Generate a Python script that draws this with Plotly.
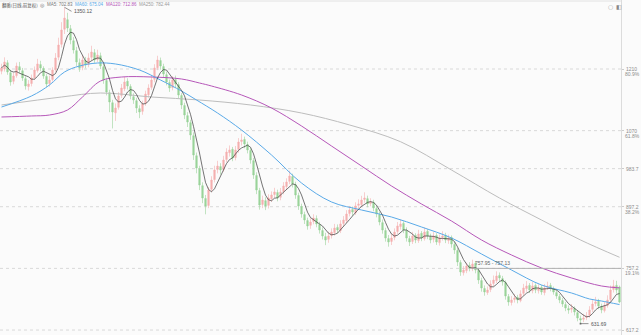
import plotly.graph_objects as go
import pandas as pd

# ---- daily OHLC (bar index 0..206) ----
opens = [1205.0, 1210.0, 1224.0, 1201.5, 1182.0, 1195.0, 1215.3, 1206.0, 1188.0, 1170.2,
         1177.0, 1190.4, 1206.5, 1220.0, 1211.1, 1193.0, 1177.2, 1186.3, 1209.0, 1236.8,
         1266.0, 1300.2, 1322.0, 1301.5, 1274.0, 1251.6, 1224.2, 1213.7, 1229.0, 1220.3,
         1236.4, 1247.0, 1231.8, 1240.1, 1215.0, 1183.7, 1156.0, 1133.4, 1110.5, 1123.0,
         1150.2, 1165.0, 1182.1, 1170.0, 1147.2, 1138.0, 1120.0, 1113.8, 1132.0, 1151.5,
         1168.3, 1186.6, 1213.0, 1229.1, 1215.4, 1197.0, 1179.2, 1168.0, 1186.2, 1174.5,
         1149.6, 1127.0, 1104.1, 1088.2, 1058.6, 1013.0, 983.6, 945.0, 915.8, 900.2,
         936.8, 959.0, 982.0, 988.3, 982.0, 1004.6, 1020.0, 1027.5, 1009.0, 1027.6,
         1045.5, 1050.0, 1038.4, 1024.7, 1001.9, 968.0, 933.8, 902.5, 911.0, 900.3,
         915.6, 925.0, 929.3, 918.5, 932.0, 943.0, 954.8, 965.6, 947.4, 922.5,
         897.5, 879.3, 865.7, 854.9, 863.9, 870.2, 856.6, 843.0, 829.3, 823.1,
         832.1, 838.4, 850.3, 843.0, 859.4, 865.7, 882.1, 891.2, 883.8, 900.3,
         902.0, 913.9, 915.6, 904.8, 906.6, 892.9, 879.3, 861.1, 843.0, 824.8,
         818.5, 827.6, 841.2, 852.1, 859.4, 843.0, 824.8, 818.5, 832.1, 820.3,
         836.7, 824.8, 841.2, 829.3, 823.1, 832.1, 815.7, 827.6, 832.1, 820.3,
         827.6, 811.2, 797.6, 770.3, 747.6, 752.1, 764.0, 756.7, 768.6, 752.1,
         729.4, 711.3, 702.2, 709.5, 723.1, 729.4, 741.3, 734.0, 724.9, 693.1,
         679.5, 686.8, 691.4, 684.0, 700.5, 711.3, 718.6, 706.7, 718.6, 706.7,
         714.1, 702.2, 714.1, 718.6, 711.3, 702.2, 693.1, 684.0, 674.9, 665.8,
         664.1, 665.8, 656.7, 643.1, 641.4, 646.0, 650.5, 664.1, 677.7, 682.3,
         670.4, 661.3, 673.2, 686.8, 709.5, 718.6, 715.0]
highs = [1222.0, 1236.5, 1230.1, 1208.3, 1201.7, 1224.6, 1226.0, 1212.4, 1193.5, 1184.7,
         1197.3, 1215.8, 1233.0, 1228.6, 1216.2, 1198.4, 1194.9, 1214.0, 1246.2, 1281.0,
         1316.4, 1350.12, 1337.6, 1310.0, 1282.5, 1260.3, 1233.8, 1241.0, 1237.4, 1245.8,
         1262.7, 1255.2, 1253.9, 1247.3, 1221.6, 1190.2, 1162.8, 1140.0, 1131.7, 1157.5,
         1176.0, 1192.2, 1189.0, 1175.5, 1155.0, 1144.6, 1127.5, 1138.2, 1160.7, 1175.3,
         1196.1, 1220.9, 1240.0, 1236.0, 1222.0, 1204.4, 1186.0, 1193.6, 1195.0, 1180.0,
         1155.2, 1133.4, 1112.0, 1094.5, 1066.0, 1020.3, 990.2, 952.6, 924.0, 942.0,
         966.5, 990.3, 1001.5, 996.0, 1012.8, 1030.0, 1036.4, 1033.0, 1035.2, 1053.0,
         1063.0, 1056.5, 1045.0, 1030.2, 1008.0, 975.5, 940.0, 922.3, 918.7, 925.6,
         932.0, 940.2, 936.0, 939.8, 953.0, 961.7, 979.0, 972.3, 954.0, 929.0,
         904.2, 886.0, 872.4, 871.0, 880.2, 877.5, 863.0, 850.4, 838.0, 840.5,
         848.0, 858.2, 857.0, 866.6, 876.0, 889.4, 899.0, 897.5, 907.3, 914.0,
         922.0, 930.0, 922.4, 916.5, 913.0, 899.6, 886.0, 868.3, 849.5, 833.0,
         835.3, 848.0, 862.6, 868.0, 864.0, 850.5, 831.0, 840.2, 837.0, 844.8,
         842.0, 850.0, 846.4, 836.0, 839.6, 837.2, 834.0, 841.5, 838.0, 833.7,
         832.0, 817.5, 803.0, 776.0, 762.4, 770.0, 771.2, 777.0, 773.0, 758.4,
         736.0, 718.5, 716.0, 730.2, 741.0, 750.6, 748.0, 740.2, 730.0, 699.0,
         694.2, 698.6, 697.0, 707.5, 722.0, 728.4, 724.0, 726.0, 723.3, 721.0,
         719.5, 721.8, 727.0, 724.2, 716.0, 708.8, 699.0, 690.5, 681.0, 673.2,
         676.0, 671.0, 662.3, 650.0, 653.8, 658.0, 671.4, 685.0, 692.5, 688.0,
         677.0, 681.6, 696.0, 718.3, 731.0, 729.0, 718.2]
lows = [1198.0, 1204.2, 1196.8, 1172.0, 1175.4, 1190.2, 1200.1, 1183.0, 1163.2, 1161.0,
        1170.5, 1185.1, 1201.9, 1205.0, 1187.7, 1168.3, 1170.0, 1181.5, 1203.4, 1230.0,
        1258.7, 1289.5, 1294.0, 1266.2, 1245.1, 1217.0, 1203.5, 1207.2, 1211.6, 1214.0,
        1229.1, 1224.0, 1225.6, 1210.0, 1176.4, 1150.0, 1112.0, 1075.0, 1092.0, 1117.8,
        1144.3, 1159.6, 1163.3, 1141.2, 1130.8, 1110.0, 1098.4, 1106.0, 1126.4, 1145.0,
        1162.7, 1180.0, 1207.3, 1208.5, 1190.3, 1172.8, 1158.0, 1161.5, 1167.4, 1143.6,
        1119.0, 1096.2, 1078.3, 1049.0, 1003.5, 973.1, 935.0, 905.3, 880.0, 894.0,
        930.1, 952.4, 973.0, 970.2, 976.5, 998.0, 1011.2, 1000.6, 1002.5, 1020.0,
        1036.2, 1030.0, 1018.3, 995.0, 960.4, 925.8, 890.6, 894.0, 889.5, 893.2,
        908.0, 917.4, 909.5, 912.0, 925.6, 937.1, 948.5, 941.0, 915.2, 890.0,
        872.3, 858.0, 845.1, 847.0, 857.3, 850.6, 836.2, 822.8, 810.0, 815.4,
        825.0, 831.5, 836.9, 837.4, 852.0, 860.3, 875.2, 877.0, 878.6, 893.0,
        896.1, 906.3, 896.0, 898.2, 887.0, 873.1, 855.0, 836.0, 818.0, 806.5,
        810.2, 821.0, 834.8, 845.3, 837.2, 818.1, 808.0, 812.6, 814.5, 815.0,
        818.9, 820.2, 823.5, 814.2, 816.0, 810.4, 809.0, 820.3, 814.6, 813.0,
        804.2, 790.1, 762.5, 740.2, 741.0, 746.3, 750.4, 751.0, 746.0, 722.0,
        704.3, 695.1, 697.0, 703.3, 716.4, 724.0, 727.6, 718.0, 686.2, 672.3,
        673.0, 679.5, 677.8, 680.2, 694.8, 704.0, 701.2, 700.5, 701.0, 700.0,
        697.2, 696.0, 708.3, 705.0, 697.5, 688.0, 678.2, 669.7, 660.0, 654.1,
        656.5, 650.2, 637.0, 631.69, 635.2, 639.6, 645.0, 658.2, 671.0, 664.4,
        655.3, 657.0, 668.0, 681.0, 702.4, 700.0, 678.0]
closes = [1212.3, 1225.9, 1203.2, 1180.5, 1194.1, 1216.8, 1207.7, 1189.6, 1171.4, 1175.9,
          1189.6, 1207.7, 1221.4, 1212.3, 1194.1, 1175.9, 1185.0, 1207.7, 1235.0, 1264.5,
          1298.6, 1325.8, 1303.1, 1275.9, 1253.2, 1225.9, 1212.3, 1230.4, 1219.1, 1235.0,
          1248.6, 1230.4, 1241.8, 1216.8, 1185.0, 1157.8, 1135.1, 1112.3, 1121.4, 1148.7,
          1166.8, 1180.5, 1171.4, 1148.7, 1139.6, 1121.4, 1112.3, 1130.5, 1153.2, 1166.8,
          1185.0, 1212.3, 1230.4, 1216.8, 1198.6, 1180.5, 1166.8, 1185.0, 1175.9, 1151.0,
          1128.3, 1105.5, 1089.6, 1060.1, 1014.7, 985.2, 946.6, 917.0, 898.9, 935.2,
          957.9, 980.6, 989.7, 980.6, 1003.3, 1021.5, 1026.1, 1007.9, 1026.1, 1044.2,
          1048.8, 1039.7, 1026.1, 1003.3, 969.3, 935.2, 901.2, 912.5, 898.9, 917.0,
          923.9, 930.7, 917.0, 930.7, 944.3, 953.4, 967.0, 948.8, 923.9, 898.9,
          880.7, 867.1, 853.5, 862.5, 871.6, 858.0, 844.4, 830.7, 821.7, 830.7,
          839.8, 848.9, 844.4, 858.0, 867.1, 880.7, 889.8, 885.2, 898.9, 903.4,
          912.5, 917.0, 903.4, 908.0, 894.3, 880.7, 862.5, 844.4, 826.2, 817.1,
          826.2, 839.8, 853.5, 858.0, 844.4, 826.2, 817.1, 830.7, 821.7, 835.3,
          826.2, 839.8, 830.7, 821.7, 830.7, 817.1, 826.2, 830.7, 821.7, 826.2,
          812.6, 799.0, 771.7, 749.0, 753.5, 762.6, 758.1, 767.2, 753.5, 730.8,
          712.7, 703.6, 708.1, 721.7, 730.8, 739.9, 735.4, 726.3, 694.5, 680.9,
          685.4, 690.0, 685.4, 699.1, 712.7, 717.2, 708.1, 717.2, 708.1, 712.7,
          703.6, 712.7, 717.2, 712.7, 703.6, 694.5, 685.4, 676.3, 667.2, 662.7,
          667.2, 658.1, 644.5, 640.0, 644.5, 649.1, 662.7, 676.3, 680.9, 671.8,
          662.7, 671.8, 685.4, 708.1, 717.2, 708.1, 680.9]

# ---- longer moving averages, sampled by bar index ----
ma60_days = [0, 10, 16, 21, 26, 32, 38, 46, 53, 60, 65, 72, 80, 90, 100, 110, 120, 130,
             140, 150, 160, 170, 180, 190, 196, 200, 206]
ma60_vals = [1123.7, 1148.7, 1173.7, 1203.2, 1216.8, 1223.6, 1221.4, 1207.7, 1185.0, 1160.0,
             1139.6, 1110.1, 1071.5, 1014.7, 951.1, 908.0, 889.8, 873.9, 851.2, 826.2,
             789.9, 753.5, 719.4, 701.3, 687.7, 683.1, 675.04]
ma120_days = [0, 10, 16, 22, 27, 33, 40, 50, 60, 66, 70, 80, 90, 100, 110, 120, 130, 140,
              150, 160, 170, 180, 190, 200, 206]
ma120_vals = [1101.0, 1103.3, 1105.5, 1116.9, 1146.4, 1182.7, 1191.8, 1191.8, 1187.3, 1178.2,
              1171.4, 1151.0, 1121.4, 1080.6, 1035.1, 989.7, 944.3, 903.4, 864.8, 821.7,
              787.6, 758.1, 735.4, 717.2, 712.86]
ma250_days = [0, 20, 33, 50, 66, 83, 100, 116, 133, 150, 166, 180, 193, 206]
ma250_vals = [1128.3, 1146.4, 1155.5, 1146.4, 1139.6, 1128.3, 1110.1, 1082.9, 1044.9, 980.6,
              917.0, 867.1, 821.7, 782.44]

# ---- right-axis levels ----
levels = [1210, 1070, 983.7, 897.2, 757.2, 617.2]
level_labels = ["1210", "1070", "983.7", "897.2", "757.2", "617.2"]
level_pcts = ["80.9%", "61.8%", "", "38.2%", "19.1%", ""]

title_text = "翻番(日线,前复权)"
ma_names = ["MA5", "MA60", "MA120", "MA250"]
ma_last = [702.83, 675.04, 712.86, 782.44]
high_label = "1350.12"
low_label = "631.69"
range_label = "757.95 - 757.13"

BG = "#fbfbfb"
C_UP = "#f5b0b0"
C_DN = "#9ad39a"
C_MA5 = "#3a3a3a"
C_MA60 = "#5aaae8"
C_MA120 = "#b657b9"
C_MA250 = "#bdbdbd"
C_TXT = "#8c8c8c"

n = len(closes)
days = list(range(n))
ma5 = pd.Series(closes).rolling(5, min_periods=1).mean()

fig = go.Figure()
fig.add_trace(go.Candlestick(
    x=days, open=opens, high=highs, low=lows, close=closes,
    increasing=dict(line=dict(color=C_UP, width=0.6), fillcolor=C_UP),
    decreasing=dict(line=dict(color=C_DN, width=0.6), fillcolor=C_DN),
    hoverinfo="skip", showlegend=False,
))
fig.add_trace(go.Scatter(x=ma250_days, y=ma250_vals, mode="lines", line=dict(color=C_MA250, width=1, shape="spline"), hoverinfo="skip"))
fig.add_trace(go.Scatter(x=ma120_days, y=ma120_vals, mode="lines", line=dict(color=C_MA120, width=1, shape="spline"), hoverinfo="skip"))
fig.add_trace(go.Scatter(x=ma60_days, y=ma60_vals, mode="lines", line=dict(color=C_MA60, width=1, shape="spline"), hoverinfo="skip"))
fig.add_trace(go.Scatter(x=days, y=ma5, mode="lines", line=dict(color=C_MA5, width=0.7), hoverinfo="skip"))

shapes = []
for lv in levels:
    shapes.append(dict(type="line", xref="paper", x0=0, x1=1, yref="y", y0=lv, y1=lv,
                       line=dict(color="#d9d9d9", width=1, dash="3px,3px"), layer="below"))
# solid price line drawn from the later swing high
shapes.append(dict(type="line", xref="x", x0=157, x1=n - 0.5, yref="y", y0=757.2, y1=757.2,
                   line=dict(color="#b0b0b0", width=1)))
# top frame line
shapes.append(dict(type="line", xref="paper", x0=0, x1=1, yref="paper", y0=0.997, y1=0.997,
                   line=dict(color="#e2e2e2", width=1)))

ann = []
fs = 5
for lv, lab, pct in zip(levels, level_labels, level_pcts):
    ann.append(dict(xref="paper", x=1.0, xanchor="left", xshift=3, yref="y", y=lv, yanchor="middle",
                    text=lab, showarrow=False, font=dict(size=fs, color=C_TXT, family="Arial")))
    if pct:
        ann.append(dict(xref="paper", x=1.0, xanchor="left", xshift=2, yref="y", y=lv, yanchor="middle",
                        yshift=-5, text=pct, showarrow=False, font=dict(size=fs, color=C_TXT, family="Arial")))

W = 621.0
def px(xp):
    return xp / W

hdr_shift = 0
ann.append(dict(xref="paper", x=px(0), xanchor="left", yref="paper", y=1, yanchor="top", yshift=hdr_shift,
                text=title_text, showarrow=False, font=dict(size=4.5, color="#555555", family="Noto Sans CJK SC")))
ann.append(dict(xref="paper", x=px(38), xanchor="left", yref="paper", y=1, yanchor="top", yshift=hdr_shift,
                text="◎", showarrow=False, font=dict(size=5, color="#777777", family="DejaVu Sans")))
ma_cols = ["#777777", C_MA60, C_MA120, "#9a9a9a"]
ma_x = [45, 73, 104, 137]
for name, val, col, xp in zip(ma_names, ma_last, ma_cols, ma_x):
    ann.append(dict(xref="paper", x=px(xp), xanchor="left", yref="paper", y=1, yanchor="top", yshift=hdr_shift,
                    text=f"{name}: {val:.2f}", showarrow=False,
                    font=dict(size=4.5, color=col, family="Arial")))
ann.append(dict(xref="paper", x=px(606), xanchor="left", yref="paper", y=1, yanchor="top", yshift=-1,
                text="○", showarrow=False, font=dict(size=6, color="#aaaaaa", family="DejaVu Sans")))
ann.append(dict(xref="paper", x=px(614), xanchor="left", yref="paper", y=1, yanchor="top", yshift=-1,
                text="◧", showarrow=False, font=dict(size=6, color="#888888", family="DejaVu Sans")))

ihi = highs.index(max(highs))
ilo = lows.index(min(lows))
ann.append(dict(x=ihi, y=highs[ihi], xref="x", yref="y", text=high_label, showarrow=True,
                arrowhead=0, arrowwidth=0.7, arrowcolor="#666666", ax=7, ay=4, xanchor="left",
                font=dict(size=5, color="#555555", family="Arial")))
ann.append(dict(x=ilo, y=lows[ilo], xref="x", yref="y", text=low_label, showarrow=True,
                arrowhead=7, arrowsize=0.6, arrowwidth=0.7, arrowcolor="#666666", ax=8, ay=0, xanchor="left",
                font=dict(size=5, color="#555555", family="Arial")))
ann.append(dict(x=157, y=757.2, xref="x", yref="y", xanchor="left", yanchor="bottom", yshift=0,
                text=range_label, showarrow=False, font=dict(size=5, color="#666666", family="Arial")))

fig.update_layout(
    width=641, height=335,
    margin=dict(l=0, r=20, t=0, b=0),
    paper_bgcolor=BG, plot_bgcolor=BG,
    showlegend=False,
    shapes=shapes, annotations=ann,
    xaxis=dict(range=[-0.5, n - 0.5], showgrid=False, zeroline=False, showticklabels=False,
               rangeslider=dict(visible=False), fixedrange=True),
    yaxis=dict(range=[605.9, 1366.7], side="right", showgrid=False, zeroline=False,
               showline=True, linecolor="#dcdcdc", linewidth=1,
               ticks="outside", ticklen=2, tickcolor="#cccccc", tickvals=levels,
               showticklabels=False, fixedrange=True),
)

fig.write_html("out.html")
